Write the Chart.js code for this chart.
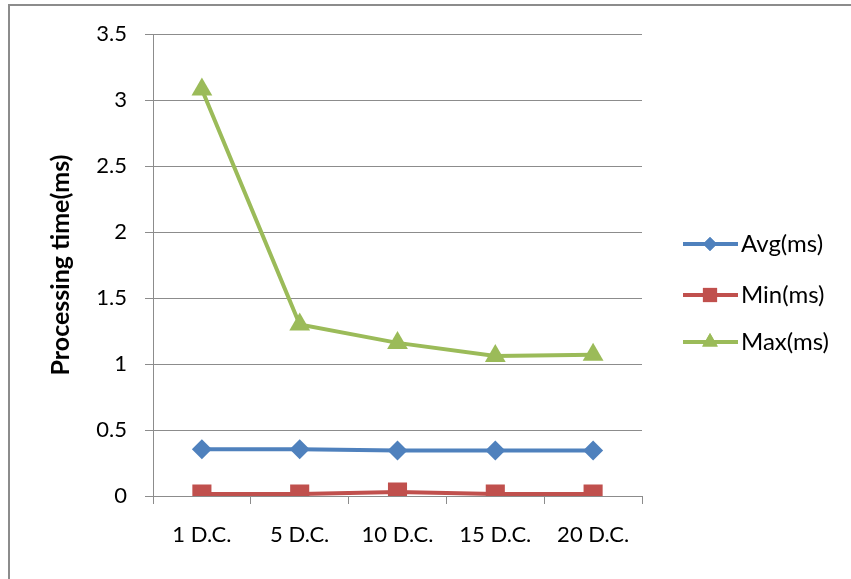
<!DOCTYPE html>
<html>
<head>
<meta charset="utf-8">
<script src="https://cdn.jsdelivr.net/npm/chart.js@4/dist/chart.umd.min.js"></script>
<style>
  html, body { margin: 0; padding: 0; background: #fff; }
  #wrap { width: 851px; height: 579px; position: relative; }
  #frame { position: absolute; left: 8px; top: 4px; width: 900px; height: 700px; border: 2px solid #8c8c8c; box-sizing: border-box; pointer-events: none; }
</style>
</head>
<body>
<div id="wrap">
  <canvas id="c" width="851" height="579"></canvas>
  <div id="frame"></div>
</div>
<script>
const categories = ['1 D.C.', '5 D.C.', '10 D.C.', '15 D.C.', '20 D.C.'];
const avgMs = [0.355, 0.355, 0.345, 0.345, 0.345];
const minMs = [0.015, 0.015, 0.03, 0.015, 0.015];
const maxMs = [3.08, 1.30, 1.16, 1.06, 1.07];
const yTicks = ['0', '0.5', '1', '1.5', '2', '2.5', '3', '3.5'];

const FONT = 'Lato, "Open Sans", sans-serif';
const GRID = '#8c8c8c';

// Legend at the right: line + marker + label per series
const sideLegend = {
  id: 'sideLegend',
  afterDraw(chart) {
    const ctx = chart.ctx;
    const rows = [244, 295, 342];
    chart.data.datasets.forEach((ds, i) => {
      const y = rows[i];
      ctx.save();
      ctx.strokeStyle = ds.borderColor;
      ctx.lineWidth = 4;
      ctx.beginPath();
      ctx.moveTo(683, y);
      ctx.lineTo(738, y);
      ctx.stroke();
      ctx.fillStyle = ds.borderColor;
      Chart.helpers.drawPoint(ctx, {pointStyle: ds.pointStyle, radius: ds.legendRadius, borderWidth: 0}, 710, y);
      ctx.fill();
      ctx.fillStyle = '#000';
      ctx.font = '24px ' + FONT;
      ctx.textBaseline = 'middle';
      ctx.textAlign = 'left';
      ctx.fillText(ds.label, 741, y);
      ctx.restore();
    });
  }
};

new Chart(document.getElementById('c'), {
  type: 'line',
  data: {
    labels: categories,
    datasets: [
      { label: 'Avg(ms)', data: avgMs, borderColor: '#4F81BD', backgroundColor: '#4F81BD', pointStyle: 'rectRot', pointRadius: 10, legendRadius: 7 },
      { label: 'Min(ms)', data: minMs, borderColor: '#C0504D', backgroundColor: '#C0504D', pointStyle: 'rect', pointRadius: 13.5, legendRadius: 10 },
      { label: 'Max(ms)', data: maxMs, borderColor: '#9BBB59', backgroundColor: '#9BBB59', pointStyle: 'triangle', pointRadius: 12, legendRadius: 9 }
    ].map(d => Object.assign(d, { borderWidth: 4, tension: 0, pointBorderWidth: 0, pointHoverRadius: d.pointRadius }))
  },
  options: {
    responsive: false,
    animation: false,
    events: [],
    layout: { padding: { left: 46, right: 209, top: 34, bottom: 0 } },
    plugins: { legend: { display: false }, tooltip: { enabled: false } },
    scales: {
      x: {
        offset: true,
        grid: { offset: true, drawOnChartArea: false, color: GRID, tickLength: 8, lineWidth: 1 },
        border: { color: GRID, width: 1 },
        ticks: { color: '#000', font: { family: FONT, size: 22 }, padding: 18, maxRotation: 0 },
        afterFit(s) { s.height = 83; }
      },
      y: {
        min: 0, max: 3.5,
        grid: { color: GRID, tickLength: 8, lineWidth: 1 },
        border: { color: GRID, width: 1 },
        ticks: {
          stepSize: 0.5, color: '#000', font: { family: FONT, size: 22 }, padding: 18,
          callback: (v, i) => yTicks[i]
        },
        title: { display: true, text: 'Processing time(ms)', color: '#000', font: { family: FONT, size: 25, weight: 'bold' }, padding: 0 },
        afterFit(s) { s.width = 107; }
      }
    }
  },
  plugins: [sideLegend]
});
</script>
</body>
</html>
